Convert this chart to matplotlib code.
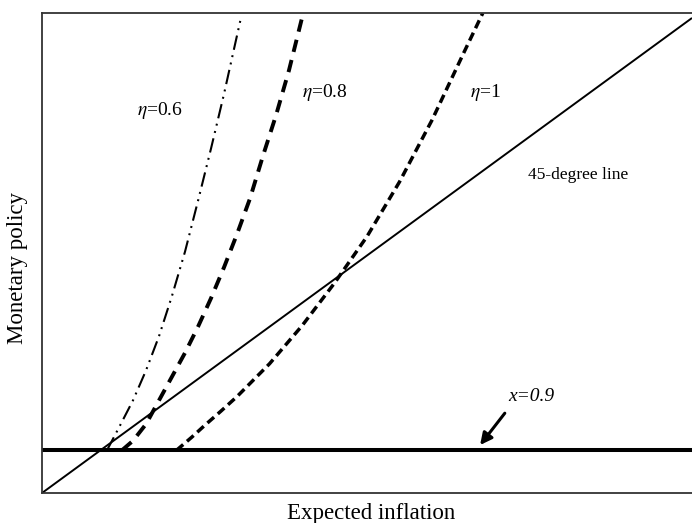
import matplotlib
matplotlib.use("Agg")
import matplotlib.pyplot as plt

plt.rcParams['font.family'] = ['Liberation Serif', 'DejaVu Serif']
plt.rcParams['mathtext.fontset'] = 'stix'
plt.rcParams['lines.scale_dashes'] = False

# ---- data ----
line45_x = [0, 10]
line45_y = [0, 10]
floor_level = 0.9

eta06_x = [1.00, 1.20, 1.40, 1.60, 1.80, 2.00, 2.20, 2.40, 2.60, 2.80, 3.06]
eta06_y = [0.90, 1.42, 1.95, 2.58, 3.30, 4.15, 5.08, 6.15, 7.25, 8.40, 10.0]

eta08_x = [1.23, 1.40, 1.60, 1.80, 2.00, 2.20, 2.40, 2.60, 2.80, 3.00, 3.20, 3.40, 3.60, 3.80, 4.00]
eta08_y = [0.90, 1.10, 1.45, 1.95, 2.45, 2.95, 3.50, 4.10, 4.75, 5.45, 6.20, 7.10, 7.95, 8.90, 10.0]

eta1_x = [2.07, 2.30, 2.50, 2.75, 3.00, 3.50, 4.00, 4.50, 5.00, 5.50, 6.00, 6.50, 6.78]
eta1_y = [0.90, 1.17, 1.42, 1.72, 2.03, 2.72, 3.52, 4.42, 5.40, 6.55, 7.85, 9.30, 10.1]

fig = plt.figure(figsize=(6.92, 5.23), dpi=100)
ax = fig.add_axes([42/692, 30/523, 650/692, 480/523])
ax.set_xlim(0, 10)
ax.set_ylim(0, 10.105)

ax.plot(line45_x, line45_y, color='black', lw=1.4, solid_capstyle='butt')
ax.axhline(floor_level, color='black', lw=2.9)

ax.plot(eta06_x, eta06_y, color='black', lw=1.5,
        linestyle=(0, (10.5, 4.0, 1.4, 4.0, 1.4, 4.0)))
ax.plot(eta08_x, eta08_y, color='black', lw=2.8,
        linestyle=(0, (9.0, 6.0)))
ax.plot(eta1_x, eta1_y, color='black', lw=2.5,
        linestyle=(0, (6.3, 3.6)))

ax.text(1.815, 8.06, r'$\eta$=0.6', fontsize=14, ha='center', va='center')
ax.text(4.36, 8.44, r'$\eta$=0.8', fontsize=14, ha='center', va='center')
ax.text(6.82, 8.44, r'$\eta$=1', fontsize=14, ha='center', va='center')
ax.text(8.25, 6.69, '45-degree line', fontsize=12.5, ha='center', va='center')
ax.text(7.53, 2.03, 'x=0.9', fontsize=14, style='italic', ha='center', va='center')
ax.annotate('', xy=(6.74, 1.01), xytext=(7.12, 1.68),
            arrowprops=dict(arrowstyle='-|>,head_length=0.7,head_width=0.35',
                            lw=2.2, color='black', shrinkA=0, shrinkB=0))

ax.set_xticks([])
ax.set_yticks([])
for side in ['left', 'top', 'bottom']:
    ax.spines[side].set_linewidth(1.3)
    ax.spines[side].set_color('#333333')
ax.spines['right'].set_visible(False)

fig.text(371/692, 1 - 513/523, 'Expected inflation', fontsize=16.5,
         ha='center', va='center')
fig.text(18/692, 1 - 268/523, 'Monetary policy', fontsize=16.5,
         ha='center', va='center', rotation=90)

fig.savefig('out.png', dpi=100)
